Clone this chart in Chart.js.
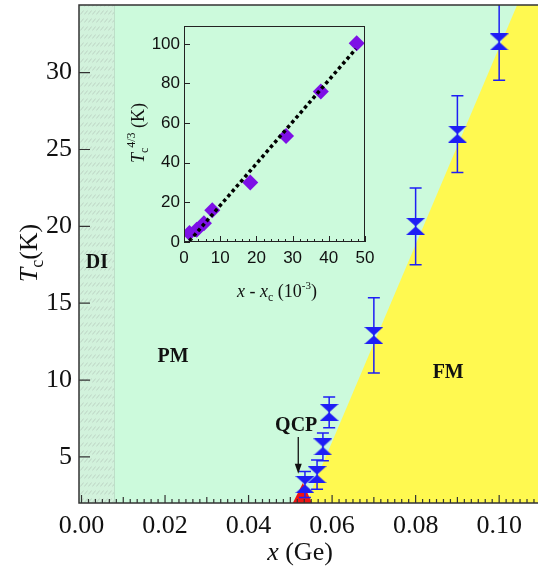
<!DOCTYPE html>
<html>
<head>
<meta charset="utf-8">
<script src="https://cdn.jsdelivr.net/npm/chart.js@4.4.1/dist/chart.umd.min.js"></script>
<style>
  html, body { margin: 0; padding: 0; background: #fff; }
  #wrap { position: relative; width: 538px; height: 573px; }
  #main { position: absolute; left: 0; top: 0; width: 538px; height: 573px; }
  #inset { position: absolute; left: 120px; top: 15px; width: 260px; height: 295px; }
</style>
</head>
<body>
<div id="wrap">
  <canvas id="main" width="538" height="573"></canvas>
  <canvas id="inset" width="260" height="295"></canvas>
</div>
<script>
// ---- main panel: Tc vs Ge content ----
const xGe   = [0.0535, 0.0564, 0.0578, 0.0593, 0.070, 0.080, 0.090, 0.100];
const tc    = [3.2, 3.85, 5.65, 7.9, 12.9, 20.0, 26.0, 32.0];
const tcErr = [0.85, 0.95, 0.9, 1.0, 2.45, 2.5, 2.5, 2.5];
const xTicks = [0, 0.02, 0.04, 0.06, 0.08, 0.10];
const tTicks = [5, 10, 15, 20, 25, 30];

// phase regions
const fmEdgeX = [0.0538, 0.1043, 0.1093];
const fmEdgeT = [2, 34.4, 34.4];
const qcpX = [0.0506, 0.0530, 0.0552];
const qcpT = [2, 3.3, 2];
const diX = [-0.0006, 0.0078];

// ---- inset: Tc^(4/3) vs x - xc ----
const dx    = [1.5, 3.5, 5.5, 7.8, 18.3, 28.2, 37.8, 47.7];
const tc43  = [4.5, 6.2, 9.5, 16.0, 30.0, 53.5, 76.0, 100.3];
const fitX  = [1.5, 47.5];
const fitY  = [0.5, 97.5];
const dxTicks   = [0, 10, 20, 30, 40, 50];
const tc43Ticks = [0, 20, 40, 60, 80, 100];

const X_MIN = -0.0006, X_MAX = 0.1093;
const T_MIN = 2, T_MAX = 34.4;

const GREEN = '#ccfadc';
const YELLOW = '#fff950';
const RED = '#f01414';
const BLUE = '#1e1ef5';
const PURPLE = '#7d10e6';
const SERIF = 'Liberation Serif';
const SANS = 'Liberation Sans';

// hourglass marker
function makeBowtie(w, h, color) {
    const c = document.createElement('canvas');
    c.width = w; c.height = h;
    const g = c.getContext('2d');
    g.fillStyle = color;
    g.beginPath();
    g.moveTo(0, 0); g.lineTo(w, 0); g.lineTo(w / 2, h / 2); g.closePath();
    g.moveTo(w / 2, h / 2); g.lineTo(w, h); g.lineTo(0, h); g.closePath();
    g.fill();
    return c;
}

// hatch for the DI strip
function makeHatch() {
    const c = document.createElement('canvas');
    c.width = 4; c.height = 8;
    const g = c.getContext('2d');
    g.fillStyle = '#d2f2dc';
    g.fillRect(0, 0, 4, 8);
    g.strokeStyle = '#bcd2c3';
    g.lineWidth = 1;
    g.beginPath();
    g.moveTo(0.3, 6.5); g.lineTo(3.7, 2.5);
    g.stroke();
    return g.createPattern(c, 'repeat');
}

// no extra padding around the plot box
function noPadX(s, h) { s.height = h; s.paddingLeft = 0; s.paddingRight = 0; }
function noPadY(s, w) { s.width = w; s.paddingTop = 0; s.paddingBottom = 0; }

// text with mixed fonts; parts = [{t, f, dy}]
function richText(ctx, parts, cx, cy) {
    let w = 0;
    parts.forEach(p => { ctx.font = p.f; w += ctx.measureText(p.t).width; });
    let x = cx - w / 2;
    ctx.textAlign = 'left';
    ctx.textBaseline = 'alphabetic';
    parts.forEach(p => {
        ctx.font = p.f;
        ctx.fillText(p.t, x, cy + (p.dy || 0));
        x += ctx.measureText(p.t).width;
    });
}

const mainDecor = {
    id: 'mainDecor',
    beforeDatasetsDraw(chart) {
        const { ctx, chartArea: a } = chart;
        ctx.save();
        ctx.fillStyle = GREEN;
        ctx.fillRect(a.left, a.top, a.right - a.left, a.bottom - a.top);
        ctx.restore();
    },
    beforeDatasetDraw(chart, args) {
        if (args.index !== 0) return;
        const { ctx, chartArea: a, scales: { x, y } } = chart;
        ctx.save();
        ctx.beginPath();
        ctx.rect(a.left, a.top, a.right - a.left, a.bottom - a.top);
        ctx.clip();
        ctx.strokeStyle = BLUE;
        ctx.lineWidth = 1.5;
        xGe.forEach((xv, i) => {
            const px = x.getPixelForValue(xv);
            const top = y.getPixelForValue(tc[i] + tcErr[i]);
            const bot = y.getPixelForValue(tc[i] - tcErr[i]);
            ctx.beginPath();
            ctx.moveTo(px, top); ctx.lineTo(px, bot);
            ctx.moveTo(px - 6, top); ctx.lineTo(px + 6, top);
            ctx.moveTo(px - 6, bot); ctx.lineTo(px + 6, bot);
            ctx.stroke();
        });
        ctx.restore();
    },
    afterDatasetsDraw(chart) {
        const { ctx, chartArea: a, scales: { x, y } } = chart;
        ctx.save();
        // DI strip edge
        ctx.strokeStyle = '#bddfc8';
        ctx.lineWidth = 1;
        const ex = Math.round(x.getPixelForValue(diX[1])) + 0.5;
        ctx.beginPath(); ctx.moveTo(ex, a.top); ctx.lineTo(ex, a.bottom); ctx.stroke();

        // frame
        ctx.strokeStyle = '#333';
        ctx.lineWidth = 1.5;
        ctx.beginPath();
        ctx.moveTo(a.right, a.top); ctx.lineTo(a.left, a.top);
        ctx.lineTo(a.left, a.bottom); ctx.lineTo(a.right, a.bottom);
        ctx.stroke();

        // inward ticks
        ctx.lineWidth = 1.2;
        ctx.beginPath();
        const step = 0.02 / 12;
        for (let k = 0; k * step <= X_MAX; k++) {
            const px = x.getPixelForValue(k * step);
            const len = k % 12 === 0 ? 8 : (k % 6 === 0 ? 6 : 4);
            ctx.moveTo(px, a.bottom); ctx.lineTo(px, a.bottom - len);
        }
        tTicks.forEach(v => {
            const py = y.getPixelForValue(v);
            ctx.moveTo(a.left, py); ctx.lineTo(a.left + 11, py);
        });
        ctx.stroke();

        // region labels
        ctx.fillStyle = '#111';
        ctx.textAlign = 'center';
        ctx.textBaseline = 'middle';
        ctx.font = 'bold 20px ' + SERIF;
        ctx.fillText('DI', x.getPixelForValue(0.0037), y.getPixelForValue(17.6));
        ctx.fillText('PM', x.getPixelForValue(0.0219), y.getPixelForValue(11.5));
        ctx.fillText('FM', x.getPixelForValue(0.0878), y.getPixelForValue(10.5));
        ctx.fillText('QCP', x.getPixelForValue(0.0514), y.getPixelForValue(7.05));

        // arrow to the QCP
        const ax = x.getPixelForValue(0.0519);
        const ay0 = y.getPixelForValue(6.3), ay1 = y.getPixelForValue(3.9);
        ctx.strokeStyle = '#111';
        ctx.lineWidth = 1.3;
        ctx.beginPath(); ctx.moveTo(ax, ay0); ctx.lineTo(ax, ay1 - 8); ctx.stroke();
        ctx.beginPath();
        ctx.moveTo(ax, ay1); ctx.lineTo(ax - 3.5, ay1 - 10); ctx.lineTo(ax + 3.5, ay1 - 10);
        ctx.closePath(); ctx.fill();

        // axis titles
        richText(ctx, [
            { t: 'x', f: 'italic 26px ' + SERIF },
            { t: ' (Ge)', f: '26px ' + SERIF }
        ], 300, 560);
        ctx.translate(37, 253);
        ctx.rotate(-Math.PI / 2);
        richText(ctx, [
            { t: 'T', f: 'italic 26px ' + SERIF },
            { t: 'c', f: '18px ' + SERIF, dy: 6 },
            { t: '(K)', f: '26px ' + SERIF }
        ], 0, 0);
        ctx.restore();
    }
};

const mainChart = new Chart(document.getElementById('main'), {
    type: 'scatter',
    data: {
        datasets: [{
            label: 'Tc',
            data: xGe.map((v, i) => ({ x: v, y: tc[i] })),
            pointStyle: makeBowtie(19, 17, BLUE),
            pointRadius: 9,
            order: 0
        }, {
            type: 'line',
            label: 'FM',
            data: fmEdgeX.map((v, i) => ({ x: v, y: fmEdgeT[i] })),
            fill: 'start',
            backgroundColor: YELLOW,
            borderWidth: 0,
            pointRadius: 0,
            order: 3
        }, {
            type: 'line',
            label: 'QCP',
            data: qcpX.map((v, i) => ({ x: v, y: qcpT[i] })),
            fill: 'start',
            backgroundColor: RED,
            borderWidth: 0,
            pointRadius: 0,
            order: 2
        }, {
            type: 'line',
            label: 'DI',
            data: diX.map(v => ({ x: v, y: T_MAX })),
            fill: 'start',
            backgroundColor: makeHatch(),
            borderWidth: 0,
            pointRadius: 0,
            order: 4
        }]
    },
    options: {
        responsive: false,
        animation: false,
        layout: { autoPadding: false, padding: { top: 5, right: 0, left: 0, bottom: 0 } },
        plugins: { legend: { display: false }, tooltip: { enabled: false } },
        scales: {
            x: {
                type: 'linear',
                min: X_MIN, max: X_MAX,
                afterBuildTicks: s => { s.ticks = xTicks.map(v => ({ value: v })); },
                afterFit: s => noPadX(s, 70),
                grid: { display: false, drawTicks: false },
                border: { display: false },
                ticks: {
                    autoSkip: false, maxRotation: 0, padding: 8,
                    color: '#111',
                    font: { family: SERIF, size: 26 },
                    callback: v => v.toFixed(2)
                }
            },
            y: {
                type: 'linear',
                min: T_MIN, max: T_MAX,
                afterBuildTicks: s => { s.ticks = tTicks.map(v => ({ value: v })); },
                afterFit: s => noPadY(s, 79),
                grid: { display: false, drawTicks: false },
                border: { display: false },
                ticks: {
                    autoSkip: false, padding: 7,
                    color: '#111',
                    font: { family: SERIF, size: 26 },
                    callback: v => String(v)
                }
            }
        }
    },
    plugins: [mainDecor]
});

const insetDecor = {
    id: 'insetDecor',
    afterDatasetsDraw(chart) {
        const { ctx, chartArea: a, scales: { x, y } } = chart;
        ctx.save();
        ctx.strokeStyle = '#222';
        ctx.lineWidth = 1;
        ctx.strokeRect(a.left + 0.5, a.top + 0.5, a.right - a.left - 1, a.bottom - a.top - 1);
        ctx.beginPath();
        for (let v = 0; v <= 50; v += 2) {
            const px = Math.round(x.getPixelForValue(v)) + 0.5;
            const len = v % 10 === 0 ? 6 : 3;
            ctx.moveTo(px, a.bottom); ctx.lineTo(px, a.bottom - len);
        }
        tc43Ticks.forEach(v => {
            const py = Math.round(y.getPixelForValue(v)) + 0.5;
            ctx.moveTo(a.left, py); ctx.lineTo(a.left + 6, py);
        });
        ctx.stroke();

        ctx.fillStyle = '#111';
        richText(ctx, [
            { t: 'x', f: 'italic 18px ' + SERIF },
            { t: ' - ', f: '18px ' + SERIF },
            { t: 'x', f: 'italic 18px ' + SERIF },
            { t: 'c', f: '12px ' + SERIF, dy: 4 },
            { t: ' (10', f: '18px ' + SERIF },
            { t: '-3', f: '11px ' + SERIF, dy: -8 },
            { t: ')', f: '18px ' + SERIF }
        ], 157, 282);
        ctx.translate(24, 118);
        ctx.rotate(-Math.PI / 2);
        richText(ctx, [
            { t: 'T', f: 'italic 18px ' + SERIF },
            { t: 'c', f: '12px ' + SERIF, dy: 4 },
            { t: '4/3', f: '12px ' + SERIF, dy: -9 },
            { t: ' (K)', f: '18px ' + SERIF }
        ], 0, 0);
        ctx.restore();
    }
};

const insetChart = new Chart(document.getElementById('inset'), {
    type: 'scatter',
    data: {
        datasets: [{
            type: 'line',
            label: 'fit',
            data: fitX.map((v, i) => ({ x: v, y: fitY[i] })),
            borderColor: '#000',
            borderWidth: 3.5,
            borderDash: [3.5, 3],
            pointRadius: 0,
            fill: false,
            order: 0
        }, {
            label: 'Tc^4/3',
            data: dx.map((v, i) => ({ x: v, y: tc43[i] })),
            pointStyle: 'rectRot',
            pointRadius: 8,
            backgroundColor: PURPLE,
            borderColor: PURPLE,
            borderWidth: 0,
            order: 1
        }]
    },
    options: {
        responsive: false,
        animation: false,
        layout: { autoPadding: false, padding: { top: 11, right: 15, left: 0, bottom: 0 } },
        plugins: { legend: { display: false }, tooltip: { enabled: false } },
        scales: {
            x: {
                type: 'linear',
                min: 0, max: 50,
                afterBuildTicks: s => { s.ticks = dxTicks.map(v => ({ value: v })); },
                afterFit: s => noPadX(s, 68),
                grid: { display: false, drawTicks: false },
                border: { display: false },
                ticks: {
                    autoSkip: false, maxRotation: 0, padding: 6,
                    color: '#111',
                    font: { family: SANS, size: 17 }
                }
            },
            y: {
                type: 'linear',
                min: 0, max: 109,
                afterBuildTicks: s => { s.ticks = tc43Ticks.map(v => ({ value: v })); },
                afterFit: s => noPadY(s, 64),
                grid: { display: false, drawTicks: false },
                border: { display: false },
                ticks: {
                    autoSkip: false, padding: 4,
                    color: '#111',
                    font: { family: SANS, size: 17 }
                }
            }
        }
    },
    plugins: [insetDecor]
});
</script>
</body>
</html>
